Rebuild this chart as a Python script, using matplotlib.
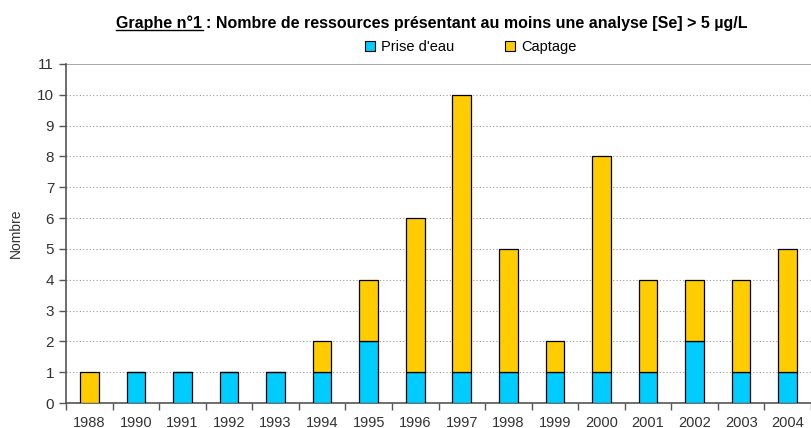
import matplotlib.pyplot as plt
import numpy as np
from matplotlib.lines import Line2D
from matplotlib.patches import Patch

years = ['1988', '1990', '1991', '1992', '1993', '1994', '1995', '1996',
         '1997', '1998', '1999', '2000', '2001', '2002', '2003', '2004']
prise_eau = [0, 1, 1, 1, 1, 1, 2, 1, 1, 1, 1, 1, 1, 2, 1, 1]
captage = [1, 0, 0, 0, 0, 1, 2, 5, 9, 4, 1, 7, 3, 2, 3, 4]

blue = '#00CCFF'
yellow = '#FFCC00'
narrow = ['Liberation Sans Narrow', 'Liberation Sans', 'DejaVu Sans']
plt.rcParams['font.family'] = ['Liberation Sans', 'DejaVu Sans']

fig = plt.figure(figsize=(8.11, 4.28), dpi=100)
ax = fig.add_axes([0.0814, 0.0584, 0.9186, 0.7921])

x = np.arange(len(years))
ax.bar(x, prise_eau, width=0.4, color=blue, edgecolor='black', linewidth=0.9, zorder=3)
ax.bar(x, captage, width=0.4, bottom=prise_eau, color=yellow, edgecolor='black',
       linewidth=0.9, zorder=3)

ax.set_xlim(-0.5, len(years) - 0.5)
ax.set_ylim(0, 11)
ax.set_yticks(range(0, 12))
ax.set_xticks(x)
ax.set_xticklabels(years)
ax.set_xticks(np.arange(-0.5, len(years)), minor=True)
ax.tick_params(axis='x', which='major', length=0, labelsize=10.5, pad=9, colors='#333333')
ax.tick_params(axis='x', which='minor', length=5, width=1, color='#555555', direction='out')
ax.tick_params(axis='y', length=5, width=1, color='#555555', labelsize=11, labelcolor='#333333')
for v in range(1, 11):
    ax.axhline(v, color='#999999', linestyle=(0, (1, 2)), linewidth=0.8, zorder=1)
ax.axhline(11, color='#999999', linewidth=1.2, zorder=1)

for s in ['top', 'right']:
    ax.spines[s].set_visible(False)
ax.spines['left'].set_color('#555555')
ax.spines['bottom'].set_color('#555555')
ax.spines['left'].set_linewidth(1.2)
ax.spines['bottom'].set_linewidth(1.2)
ax.set_ylabel('Nombre', family=narrow, fontsize=10, color='#333333', labelpad=10)

# title with underlined first part
t1 = fig.text(0.143, 0.945, 'Graphe n°1 ', family=narrow, fontsize=11.5,
              fontweight='bold', ha='left', va='center')
fig.canvas.draw()
r = fig.canvas.get_renderer()
bb = t1.get_window_extent(r).transformed(fig.transFigure.inverted())
t2 = fig.text(bb.x1, 0.945, ': Nombre de ressources présentant au moins une analyse [Se] > 5 µg/L',
              family=narrow, fontsize=11.5, fontweight='bold', ha='left', va='center')
fig.add_artist(Line2D([bb.x0, bb.x1 - 0.004], [bb.y0 + 0.004, bb.y0 + 0.004],
                      color='black', linewidth=1, transform=fig.transFigure))

handles = [Patch(facecolor=blue, edgecolor='black', linewidth=0.8),
           Patch(facecolor=yellow, edgecolor='black', linewidth=0.8)]
fig.legend(handles, ["Prise d'eau", 'Captage'], loc='center', bbox_to_anchor=(0.58, 0.89),
           ncol=2, frameon=False, prop={'family': narrow, 'size': 10.5},
           handlelength=0.7, handleheight=0.7, handletextpad=0.4, columnspacing=3.5)

fig.savefig('out.png', dpi=100)
